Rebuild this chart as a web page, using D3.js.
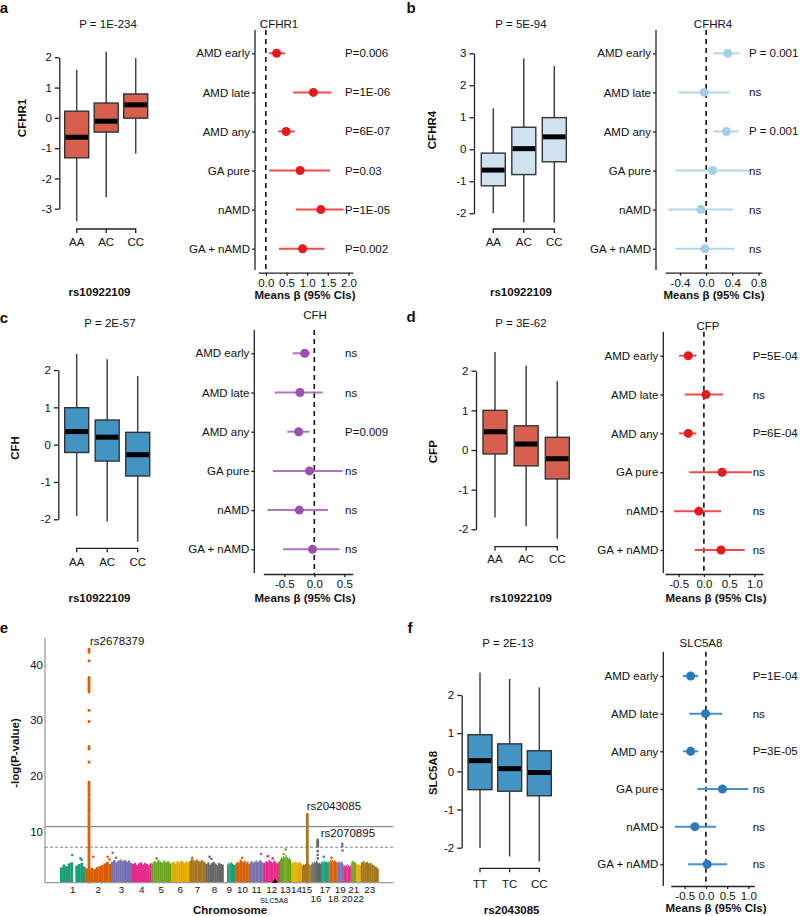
<!DOCTYPE html>
<html><head><meta charset="utf-8">
<script src="https://cdn.jsdelivr.net/npm/d3@7"></script>
<style>
body{margin:0;background:#fff}
svg{display:block}
text{font-family:"Liberation Sans",Arial,Helvetica,sans-serif;fill:#111}
</style>
</head><body>
<svg id="chart" width="800" height="916"></svg>
<script>
// ---------------- DATA ----------------
const rowLabels = ["AMD early","AMD late","AMD any","GA pure","nAMD","GA + nAMD"];
const genoRs109 = ["AA","AC","CC"];
const genoRs085 = ["TT","TC","CC"];

// box stats: [low whisker, Q1, median, Q3, high whisker]
const boxCFHR1 = [[-3.41,-1.32,-0.64,0.22,1.59],[-2.62,-0.47,-0.11,0.49,2.18],[-1.18,-0.01,0.43,0.79,1.97]];
const boxCFHR4 = [[-2.00,-1.14,-0.65,-0.12,1.28],[-2.29,-0.79,0.02,0.69,2.84],[-2.29,-0.39,0.39,0.99,2.60]];
const boxCFH   = [[-1.91,-0.21,0.35,0.99,2.43],[-2.06,-0.44,0.20,0.66,2.29],[-2.60,-0.84,-0.27,0.33,1.84]];
const boxCFP   = [[-1.70,-0.10,0.46,1.00,2.47],[-1.92,-0.40,0.15,0.61,2.13],[-2.24,-0.73,-0.22,0.32,1.74]];
const boxSLC5A8= [[-2.01,-0.48,0.28,0.96,2.59],[-2.23,-0.52,0.07,0.72,2.42],[-2.36,-0.64,-0.03,0.54,2.20]];

const boxTicksA = [-3,-2,-1,0,1,2];
const boxTicksB = [-2,-1,0,1,2,3];
const boxTicksC = [-2,-1,0,1,2];

// forest data (beta, CI low, CI high, p labels)
const betaCFHR1 = [0.26,1.15,0.49,0.83,1.33,0.89];
const loCFHR1   = [0.08,0.66,0.30,0.08,0.73,0.32];
const hiCFHR1   = [0.46,1.59,0.70,1.55,1.88,1.42];
const pCFHR1    = ["P=0.006","P=1E-06","P=6E-07","P=0.03","P=1E-05","P=0.002"];

const betaCFHR4 = [0.33,-0.03,0.31,0.10,-0.08,-0.02];
const loCFHR4   = [0.11,-0.42,0.11,-0.47,-0.58,-0.47];
const hiCFHR4   = [0.51,0.36,0.49,0.67,0.41,0.43];
const pCFHR4    = ["P = 0.001","ns","P = 0.001","ns","ns","ns"];

const betaCFH = [-0.16,-0.24,-0.26,-0.08,-0.25,-0.03];
const loCFH   = [-0.36,-0.66,-0.45,-0.69,-0.78,-0.52];
const hiCFH   = [-0.07,0.14,-0.08,0.47,0.23,0.42];
const pCFH    = ["ns","ns","P=0.009","ns","ns","ns"];

const betaCFP = [-0.31,0.04,-0.31,0.36,-0.10,0.34];
const loCFP   = [-0.49,-0.38,-0.49,-0.29,-0.59,-0.18];
const hiCFP   = [-0.15,0.38,-0.15,0.95,0.34,0.81];
const pCFP    = ["P=5E-04","ns","P=6E-04","ns","ns","ns"];

const betaSLC = [-0.36,-0.01,-0.36,0.39,-0.26,0.03];
const loSLC   = [-0.54,-0.39,-0.54,-0.20,-0.73,-0.42];
const hiSLC   = [-0.18,0.39,-0.18,1.00,0.24,0.50];
const pSLC    = ["P=1E-04","ns","P=3E-05","ns","ns","ns"];

const forestTicksA = [0,0.5,1,1.5,2];
const forestTicksB = [-0.4,0,0.4,0.8];
const forestTicksC = [-0.5,0,0.5];
const forestTicksD = [-0.5,0,0.5,1];

// Manhattan
const chromLabels = ["1","2","3","4","5","6","7","8","9","10","11","12","13","14","15","16","17","18","19","20","21","22","23"];
const chromSizes  = [25.5,25.5,21,19.5,19.5,18.3,16.2,18,11.7,14.5,14,16,11.3,11,9.3,9.5,8.5,8,6,8,4.7,4.8,17.7];
const chromLabelRow = [0,0,0,0,0,0,0,0,0,0,0,0,0,0,0,1,0,1,0,1,0,1,0];
const chromColors = ["#1b9e77","#d95f02","#7570b3","#e7298a","#66a61e","#e6ab02","#a6761d","#666666"];
// upper envelope of the dense point mass (-log10 P), 10 bins per chromosome
const chromTop = [
 [3.6,4.1,3.8,4.3,4.5,null,3.9,4.2,4.4,3.7],
 [3.4,3.2,3.5,3.3,3.6,3.8,4.0,4.3,4.6,4.2],
 [4.6,4.9,4.5,4.8,5.0,4.7,4.9,4.6,4.8,4.4],
 [4.2,4.4,4.0,4.3,4.5,4.1,4.4,4.2,4.0,4.3],
 [4.3,4.7,4.5,4.9,4.6,4.4,4.8,4.5,4.7,4.3],
 [4.4,4.6,4.3,4.7,4.5,4.8,4.6,4.4,4.7,4.5],
 [4.8,5.1,4.9,4.7,5.0,4.8,4.6,4.9,4.7,4.5],
 [4.2,4.5,4.1,4.4,4.6,4.3,4.0,4.4,4.2,4.1],
 [null,null,null,4.1,4.4,4.2,4.5,4.3,4.1,4.0],
 [4.3,4.6,4.4,5.0,4.7,4.5,4.8,4.4,4.6,4.2],
 [4.5,4.7,4.4,4.6,4.8,4.5,4.7,4.9,4.6,4.4],
 [4.4,4.7,4.5,4.9,4.6,4.4,4.8,4.5,4.3,4.6],
 [5.0,5.4,5.2,5.6,5.3,5.8,5.4,5.1,5.3,4.9],
 [4.3,4.5,4.4,4.6,4.5,4.3,4.4,4.6,4.4,4.2],
 [3.9,4.1,4.0,4.2,4.3,4.1,4.0,4.2,3.9,4.0],
 [4.3,4.5,4.2,4.6,4.4,4.8,4.5,4.3,4.4,4.2],
 [4.5,4.7,4.4,4.6,4.8,4.5,4.6,4.4,4.7,4.3],
 [4.6,4.9,4.7,5.0,4.8,4.6,4.9,4.7,4.5,4.6],
 [4.4,4.6,4.3,4.5,4.7,4.4,4.6,4.3,4.5,4.2],
 [3.8,4.0,3.7,3.9,4.1,3.8,3.9,3.7,4.0,3.6],
 [4.5,4.7,4.6,4.8,4.5,4.7,4.4,4.6,4.5,4.3],
 [4.0,4.2,3.9,4.1,4.0,4.2,3.9,4.1,3.8,4.0],
 [4.5,4.7,4.4,4.6,4.3,4.4,4.1,3.9,3.7,3.4]
];
// isolated points above the mass: chromosome, position within chromosome, -log10 P
const outChrom = [1,1,1,2,2,2,3,3,5,7,8,8,10,11,12,12,13,13,17,18,19,19,19,16,16,16];
const outPos   = [12.3,21.7,20.5,7.8,22.2,24,1.7,5,5,3,4,6,7,11.3,4,9,6,4,3,2,5.0,5.0,5.2,6.4,6.4,6.4];
const outVal   = [5.8,4.9,5.2,5.5,5.5,5.0,6.2,5.3,5.2,5.3,5.5,5.1,5.3,6.0,5.6,5.2,6.8,6.0,5.5,5.3,7.8,7.4,6.6,6.5,5.8,5.2];
// association peaks: chromosome, position, continuous runs, single points, label
const peakChrom = [2,15,16];
const peakPos   = [3.5,5.3,6.4];
const peakRuns  = [[[0.9,13.1],[13.5,16.1],[16.5,18.9],[35.1,37.7],[42.2,42.8]],[[0.9,13.1]],[[7.3,8.5]]];
const peakDots  = [[22.5,24.9,25.3,29.8,31.8,40.7],[],[]];
const peakNames = ["rs2678379","rs2043085","rs2070895"];
const peakNameTop = [42.8,13.1,8.5];
const manhattanTicks = [10,20,30,40];
const sigLine = 10.9, sugLine = 7.2;
const markerChrom = 12, markerPos = 11.3, markerName = "SLC5A8";

// ---------------- DRAW ----------------
const svg = d3.select("#chart");
const FS = 11.5;
const font = '"Liberation Sans",Arial,sans-serif';

function txt(x,y,s,opt={}) {
  return svg.append("text").attr("x",x).attr("y",y).attr("dy","0.35em")
    .attr("text-anchor",opt.anchor||"middle")
    .attr("font-size",(opt.size||FS)+"px")
    .attr("font-weight",opt.bold?"bold":"normal")
    .attr("transform",opt.rot?`rotate(-90,${x},${y})`:null)
    .text(s);
}

function drawBox(c) {
  const g = svg.append("g");
  const y = d3.scaleLinear().domain(c.yDomain).range(c.yRange);
  const x = d3.scalePoint().domain(c.cats).range([c.cx0,c.cx1]);
  const ax = g.append("g").attr("transform",`translate(${c.axisX},0)`)
    .call(d3.axisLeft(y).tickValues(c.ticks).tickSize(4.5).tickSizeOuter(0).tickPadding(3).tickFormat(d=>String(d)));
  ax.selectAll("path,line").attr("stroke","#222").attr("stroke-width",1.3);
  ax.selectAll("text").attr("font-size",FS+"px").attr("font-family",font).attr("fill","#111");
  c.stats.forEach((s,i)=>{
    const cx = x(c.cats[i]);
    g.append("line").attr("x1",cx).attr("x2",cx).attr("y1",y(s[0])).attr("y2",y(s[4]))
      .attr("stroke","#444").attr("stroke-width",1.5);
    g.append("rect").attr("x",cx-c.boxW/2).attr("width",c.boxW)
      .attr("y",y(s[3])).attr("height",y(s[1])-y(s[3]))
      .attr("fill",c.color).attr("stroke","#333").attr("stroke-width",1.4);
    g.append("line").attr("x1",cx-c.boxW/2+0.7).attr("x2",cx+c.boxW/2-0.7).attr("y1",y(s[2])).attr("y2",y(s[2]))
      .attr("stroke","#000").attr("stroke-width",5);
  });
  // category bracket
  const xs = c.cats.map(d=>x(d));
  let p = `M${xs[0]},${c.bracketY+4}V${c.bracketY}H${xs[xs.length-1]}V${c.bracketY+4}`;
  xs.slice(1,-1).forEach(v=>{p+=`M${v},${c.bracketY}V${c.bracketY+4}`;});
  g.append("path").attr("d",p).attr("fill","none").attr("stroke","#222").attr("stroke-width",1.3);
  c.cats.forEach(d=>txt(x(d),c.catY,d));
  txt(c.pX,c.pY,c.pText);
  txt(c.yLabX,c.yLabY,c.yLab,{bold:true,rot:true});
  txt(c.xLabX,c.xLabY,c.xLab,{bold:true});
}

function drawForest(c) {
  const g = svg.append("g");
  const x = d3.scaleLinear().domain(c.xDomain).range(c.xRange);
  const y = d3.scalePoint().domain(rowLabels).range([c.r0,c.r1]);
  // y axis
  g.append("line").attr("x1",c.yAxisX).attr("x2",c.yAxisX).attr("y1",c.yTop).attr("y2",c.yBot)
    .attr("stroke","#222").attr("stroke-width",1.3);
  const ya = g.append("g").attr("transform",`translate(${c.yAxisX},0)`)
    .call(d3.axisLeft(y).tickSize(3).tickPadding(2));
  ya.select(".domain").remove();
  ya.selectAll("line").attr("stroke","#222").attr("stroke-width",1.3);
  ya.selectAll("text").attr("font-size",FS+"px").attr("font-family",font).attr("fill","#111");
  // x axis
  const xa = g.append("g").attr("transform",`translate(0,${c.xAxisY})`)
    .call(d3.axisBottom(x).tickValues(c.ticks).tickSize(3).tickSizeOuter(0).tickPadding(3).tickFormat(d=>d.toFixed(1)));
  xa.selectAll("path,line").attr("stroke","#222").attr("stroke-width",1.3);
  xa.selectAll("text").attr("font-size",FS+"px").attr("font-family",font).attr("fill","#111");
  // zero line
  g.append("line").attr("x1",x(0)).attr("x2",x(0)).attr("y1",c.yTop).attr("y2",c.xAxisY)
    .attr("stroke","#111").attr("stroke-width",1.6).attr("stroke-dasharray","5,4");
  rowLabels.forEach((r,i)=>{
    g.append("line").attr("x1",x(c.lo[i])).attr("x2",x(c.hi[i])).attr("y1",y(r)).attr("y2",y(r))
      .attr("stroke",c.ciColor).attr("stroke-width",2);
    g.append("circle").attr("cx",x(c.beta[i])).attr("cy",y(r)).attr("r",4.5).attr("fill",c.color);
    txt(c.pX,y(r),c.p[i],{anchor:"start"});
  });
  txt(c.titleX,c.titleY,c.title);
  txt(c.meansX,c.meansY,"Means β (95% CIs)",{bold:true});
}

// panel letters
[["a",4,8],["b",411,8],["c",4,318],["d",411,317],["e",4,628],["f",410,628]].forEach(d=>
  txt(d[1],d[2],d[0],{bold:true,size:15}));

// box plots
drawBox({stats:boxCFHR1,cats:genoRs109,color:"#d6604d",axisX:59.3,yDomain:[-3,2],yRange:[208.7,57.3],ticks:boxTicksA,
  cx0:76.7,cx1:135.7,boxW:24,bracketY:229,catY:242,pText:"P = 1E-234",pX:108,pY:24,
  yLab:"CFHR1",yLabX:22,yLabY:118,xLab:"rs10922109",xLabX:99.5,xLabY:292});
drawBox({stats:boxCFHR4,cats:genoRs109,color:"#cfe2ef",axisX:474,yDomain:[-2,3],yRange:[213.3,53.3],ticks:boxTicksB,
  cx0:493.3,cx1:554.3,boxW:24,bracketY:229,catY:242,pText:"P = 5E-94",pX:521,pY:24,
  yLab:"CFHR4",yLabX:431.7,yLabY:130,xLab:"rs10922109",xLabX:521,xLabY:292});
drawBox({stats:boxCFH,cats:genoRs109,color:"#4393c3",axisX:58.3,yDomain:[-2,2],yRange:[519.3,370],ticks:boxTicksC,
  cx0:76.7,cx1:137.7,boxW:24,bracketY:548.3,catY:561.7,pText:"P = 2E-57",pX:110,pY:323.3,
  yLab:"CFH",yLabX:15,yLabY:448,xLab:"rs10922109",xLabX:99.5,xLabY:598});
drawBox({stats:boxCFP,cats:genoRs109,color:"#d6604d",axisX:476,yDomain:[-2,2],yRange:[529.3,370.7],ticks:boxTicksC,
  cx0:495,cx1:557.3,boxW:24,bracketY:546.7,catY:559.3,pText:"P = 3E-62",pX:521,pY:323.3,
  yLab:"CFP",yLabX:433.3,yLabY:451.7,xLab:"rs10922109",xLabX:521,xLabY:598});
drawBox({stats:boxSLC5A8,cats:genoRs085,color:"#4393c3",axisX:461.7,yDomain:[-2,2],yRange:[847.7,695],ticks:boxTicksC,
  cx0:480,cx1:539.3,boxW:24,bracketY:868.3,catY:884,pText:"P = 2E-13",pX:508,pY:643.3,
  yLab:"SLC5A8",yLabX:433.3,yLabY:773,xLab:"rs2043085",xLabX:511.7,xLabY:909.5});

// forest plots
drawForest({beta:betaCFHR1,lo:loCFHR1,hi:hiCFHR1,p:pCFHR1,color:"#e41a1c",ciColor:"#ee4b4c",
  yAxisX:255,yTop:30,yBot:270,r0:53.3,r1:248.7,xAxisY:272.7,xDomain:[-0.19,2.11],xRange:[258,353],ticks:forestTicksA,
  title:"CFHR1",titleX:279,titleY:24,pX:345,meansX:305,meansY:295});
drawForest({beta:betaCFHR4,lo:loCFHR4,hi:hiCFHR4,p:pCFHR4,color:"#a6cfe6",ciColor:"#b2d6ea",
  yAxisX:656,yTop:30,yBot:270,r0:53.3,r1:248.7,xAxisY:272.7,xDomain:[-0.63,0.85],xRange:[665,761.7],ticks:forestTicksB,
  title:"CFHR4",titleX:713,titleY:24,pX:749,meansX:714,meansY:295});
drawForest({beta:betaCFH,lo:loCFH,hi:hiCFH,p:pCFH,color:"#9b4fb0",ciColor:"#b274c2",
  yAxisX:254.3,yTop:330,yBot:573,r0:353.3,r1:549.3,xAxisY:574,xDomain:[-0.85,0.64],xRange:[263.3,352.7],ticks:forestTicksC,
  title:"CFH",titleX:315,titleY:315,pX:345,meansX:305,meansY:598});
drawForest({beta:betaCFP,lo:loCFP,hi:hiCFP,p:pCFP,color:"#e41a1c",ciColor:"#ee4b4c",
  yAxisX:663.3,yTop:331.7,yBot:573,r0:355.7,r1:550,xAxisY:574,xDomain:[-0.77,1.17],xRange:[665,763],ticks:forestTicksD,
  title:"CFP",titleX:708,titleY:326,pX:752.7,meansX:716,meansY:598});
drawForest({beta:betaSLC,lo:loSLC,hi:hiSLC,p:pSLC,color:"#2a7ab9",ciColor:"#4a90c6",
  yAxisX:663.3,yTop:651.7,yBot:886,r0:676,r1:864.3,xAxisY:886,xDomain:[-0.83,1.14],xRange:[670.7,754.3],ticks:forestTicksD,
  title:"SLC5A8",titleX:701,titleY:643.3,pX:752.7,meansX:716,meansY:907.5});

// ---------------- Manhattan ----------------
(function(){
  const g = svg.append("g");
  const starts = []; let acc = 0;
  chromSizes.forEach(s=>{starts.push(acc); acc+=s;});
  const total = acc;
  const x = d3.scaleLinear().domain([0,total]).range([60,378.5]);
  const y = d3.scaleLinear().domain([0.83,44.8]).range([882.7,638]);
  const base = y(0.83);
  const col = i => chromColors[i % chromColors.length];
  // dense mass
  chromTop.forEach((arr,ci)=>{
    const n = arr.length, w = chromSizes[ci]/n;
    arr.forEach((v,i)=>{
      if (v==null) return;
      const x0 = x(starts[ci]+i*w), x1 = x(starts[ci]+(i+1)*w);
      g.append("rect").attr("x",x0).attr("width",x1-x0+0.3).attr("y",y(v)).attr("height",base-y(v))
        .attr("fill",col(ci));
    });
  });
  // outliers
  outChrom.forEach((c,i)=>{
    g.append("circle").attr("cx",x(starts[c-1]+outPos[i])).attr("cy",y(outVal[i])).attr("r",1.3).attr("fill",col(c-1));
  });
  // peaks
  peakChrom.forEach((c,i)=>{
    const px = x(starts[c-1]+peakPos[i]);
    peakRuns[i].forEach(r=>{
      g.append("line").attr("x1",px).attr("x2",px).attr("y1",y(r[0])).attr("y2",y(r[1]))
        .attr("stroke",col(c-1)).attr("stroke-width",2.8).attr("stroke-linecap","round");
    });
    peakDots[i].forEach(v=>{
      g.append("circle").attr("cx",px).attr("cy",y(v)).attr("r",1.5).attr("fill",col(c-1));
    });
  });
  // threshold lines
  g.append("line").attr("x1",45).attr("x2",393.3).attr("y1",y(sigLine)).attr("y2",y(sigLine))
    .attr("stroke","#8a8a8a").attr("stroke-width",1.3);
  g.append("line").attr("x1",45).attr("x2",393.3).attr("y1",y(sugLine)).attr("y2",y(sugLine))
    .attr("stroke","#777").attr("stroke-width",0.9).attr("stroke-dasharray","3,2");
  // axes
  g.append("line").attr("x1",45).attr("x2",45).attr("y1",638).attr("y2",base).attr("stroke","#999").attr("stroke-width",1.3);
  g.append("line").attr("x1",45).attr("x2",393.3).attr("y1",base).attr("y2",base).attr("stroke","#999").attr("stroke-width",1.3);
  manhattanTicks.forEach(t=>txt(43,y(t),String(t),{anchor:"end"}));
  // chromosome labels
  chromLabels.forEach((l,i)=>{
    txt(x(starts[i]+chromSizes[i]/2), chromLabelRow[i]?899:889.5, l, {size:9.8});
  });
  // marker
  const mx = x(starts[markerChrom-1]+markerPos);
  g.append("path").attr("d",`M${mx-2.8},${base}L${mx+2.8},${base}L${mx},${base-4.5}Z`).attr("fill","#000");
  txt(mx-1,900,markerName,{size:7.5});
  // peak labels
  const offs = [[1,-8],[-0.6,-8.5],[3,-7]];
  peakChrom.forEach((c,i)=>{
    txt(x(starts[c-1]+peakPos[i])+offs[i][0], y(peakNameTop[i])+offs[i][1], peakNames[i], {anchor:"start"});
  });
  txt(15,753,"-log(P-value)",{bold:true,rot:true});
  txt(230,909.5,"Chromosome",{bold:true});
})();
</script>
</body></html>
